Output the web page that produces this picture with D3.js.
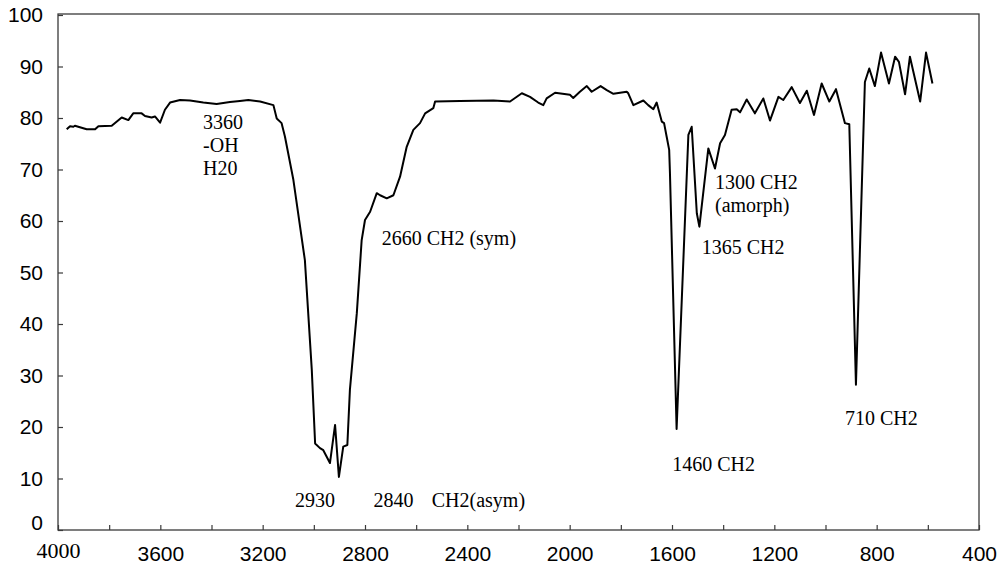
<!DOCTYPE html>
<html>
<head>
<meta charset="utf-8">
<script src="https://cdn.jsdelivr.net/npm/d3@7"></script>
<style>
  body { margin: 0; background: #fff; }
  svg { display: block; }
</style>
</head>
<body>
<div id="chart-area"></div>
<script>
/*
*   FTIR spectrum - polyethylene
*/

// wavenumber (cm-1)
var wavenumbers = [3966, 3953, 3940, 3934, 3888, 3855, 3842, 3790, 3751, 3725,
    3706, 3673, 3660, 3634, 3621, 3601, 3582, 3562, 3523, 3484,
    3432, 3380, 3328, 3289, 3256, 3210, 3158, 3145, 3126, 3113,
    3080, 3035, 3008, 2995, 2976, 2963, 2937, 2917, 2902, 2885,
    2869, 2859, 2832, 2813, 2800, 2780, 2754, 2741, 2715, 2689,
    2663, 2637, 2611, 2585, 2565, 2533, 2526, 2429, 2298, 2233,
    2187, 2155, 2123, 2103, 2090, 2057, 1999, 1986, 1960, 1933,
    1914, 1879, 1855, 1829, 1777, 1771, 1751, 1712, 1693, 1673,
    1660, 1640, 1631, 1621, 1611, 1608, 1582, 1536, 1523, 1503,
    1493, 1458, 1432, 1412, 1393, 1367, 1347, 1334, 1308, 1276,
    1243, 1217, 1184, 1165, 1132, 1100, 1073, 1045, 1015, 985,
    959, 924, 907, 881, 846, 829, 807, 783, 752, 728,
    713, 689, 670, 630, 607, 582];

// transmittance (%)
var transmittance = [77.8, 78.4, 78.3, 78.5, 77.8, 77.8, 78.4, 78.5, 80.1, 79.6,
    80.9, 80.9, 80.4, 80.1, 80.3, 79.1, 81.6, 83.0, 83.5, 83.4,
    83.0, 82.7, 83.1, 83.3, 83.5, 83.2, 82.5, 79.9, 79.0, 76.4,
    68.0, 52.4, 31.1, 16.8, 15.9, 15.5, 13.0, 20.4, 10.3, 16.2,
    16.5, 27.2, 42.1, 56.3, 60.2, 61.8, 65.4, 65.0, 64.4, 65.0,
    68.6, 74.4, 77.7, 79.0, 80.9, 81.9, 83.2, 83.3, 83.4, 83.2,
    84.8, 84.1, 83.0, 82.5, 83.8, 84.9, 84.5, 83.9, 85.1, 86.2,
    85.1, 86.2, 85.4, 84.7, 85.1, 84.8, 82.5, 83.4, 82.5, 81.7,
    83.0, 79.3, 79.0, 76.4, 73.8, 69.3, 19.6, 76.7, 78.3, 61.5,
    58.9, 74.1, 70.2, 75.1, 76.7, 81.6, 81.7, 81.1, 83.6, 80.9,
    83.8, 79.5, 84.1, 83.5, 86.0, 82.9, 85.3, 80.6, 86.7, 83.2,
    85.6, 79.0, 78.8, 28.2, 87.0, 89.6, 86.2, 92.7, 86.7, 91.9,
    90.9, 84.6, 91.9, 83.2, 92.7, 86.7];

var xTicks = d3.range(4000, 399, -200);
var xLabels = [4000, 3600, 3200, 2800, 2400, 2000, 1600, 1200, 800, 400];
var yTicks = d3.range(0, 101, 10);

// peak labels: [text, wavenumber, transmittance] for the text baseline start
var notes = [
    ["3360", 3433, 77.9],
    ["-OH", 3433, 73.4],
    ["H20", 3433, 68.9],
    ["2660 CH2 (sym)", 2735, 55.3],
    ["2930", 3074, 4.5],
    ["2840", 2767, 4.5],
    ["CH2(asym)", 2539, 4.5],
    ["1300 CH2", 1432, 66.3],
    ["(amorph)", 1432, 61.8],
    ["1365 CH2", 1484, 53.6],
    ["1460 CH2", 1599, 11.5],
    ["710 CH2", 924, 20.4]
];

var data = wavenumbers.map(function(w, i){
    return {wn: w, t: transmittance[i]};
});

var margin = {left: 58, right: 18, top: 14, bottom: 36};
var width = 997 - margin.left - margin.right;
var height = 566 - margin.top - margin.bottom;

var svg = d3.select("#chart-area")
    .append("svg")
        .attr("width", 997)
        .attr("height", 566);

var g = svg.append("g")
    .attr("transform", "translate(" + margin.left + "," + margin.top + ")");

var x = d3.scaleLinear()
    .domain([4000, 400])
    .range([0, width]);

var y = d3.scaleLinear()
    .domain([0, 100])
    .range([height, 1]);

// frame
g.append("rect")
    .attr("x", 0)
    .attr("y", 0)
    .attr("width", width)
    .attr("height", height)
    .attr("fill", "none")
    .attr("stroke", "#3a3a3a")
    .attr("stroke-width", 1.3);

// x axis, ticks point inward
var xAxisCall = d3.axisBottom(x)
    .tickValues(xTicks)
    .tickSize(-5)
    .tickPadding(16)
    .tickFormat(function(d){
        return xLabels.indexOf(d) >= 0 ? d : "";
    });

var xAxisGroup = g.append("g")
    .attr("class", "x axis")
    .attr("transform", "translate(0," + height + ")")
    .call(xAxisCall);

xAxisGroup.select(".domain").remove();
xAxisGroup.selectAll("line").attr("stroke", "#3a3a3a").attr("stroke-width", 1.2);
xAxisGroup.selectAll("text")
    .attr("fill", "#000")
    .attr("font-family", "Liberation Sans, Arial, sans-serif")
    .attr("font-size", "21px");
xAxisGroup.selectAll("text")
    .filter(function(d){ return d === 4000; })
    .attr("font-family", "Liberation Serif, Times New Roman, serif")
    .attr("font-size", "22px")
    .attr("y", 12);

// y axis
var yAxisCall = d3.axisLeft(y)
    .tickValues(yTicks)
    .tickSize(-5)
    .tickPadding(15);

var yAxisGroup = g.append("g")
    .attr("class", "y axis")
    .call(yAxisCall);

yAxisGroup.select(".domain").remove();
yAxisGroup.selectAll("line").attr("stroke", "#3a3a3a").attr("stroke-width", 1.2);
yAxisGroup.selectAll("text")
    .attr("fill", "#000")
    .attr("font-family", "Liberation Sans, Arial, sans-serif")
    .attr("font-size", "21px");
yAxisGroup.selectAll("text")
    .filter(function(d){ return d === 0; })
    .attr("y", -7);

// spectrum
var line = d3.line()
    .x(function(d){ return x(d.wn); })
    .y(function(d){ return y(d.t); });

g.append("path")
    .datum(data)
    .attr("fill", "none")
    .attr("stroke", "#000")
    .attr("stroke-width", 2)
    .attr("stroke-linejoin", "round")
    .attr("d", line);

// peak annotations
g.selectAll("text.note")
    .data(notes)
    .enter()
    .append("text")
        .attr("class", "note")
        .attr("x", function(d){ return x(d[1]); })
        .attr("y", function(d){ return y(d[2]); })
        .attr("font-family", "Liberation Serif, Times New Roman, serif")
        .attr("font-size", "20px")
        .attr("fill", "#000")
        .text(function(d){ return d[0]; });
</script>
</body>
</html>
